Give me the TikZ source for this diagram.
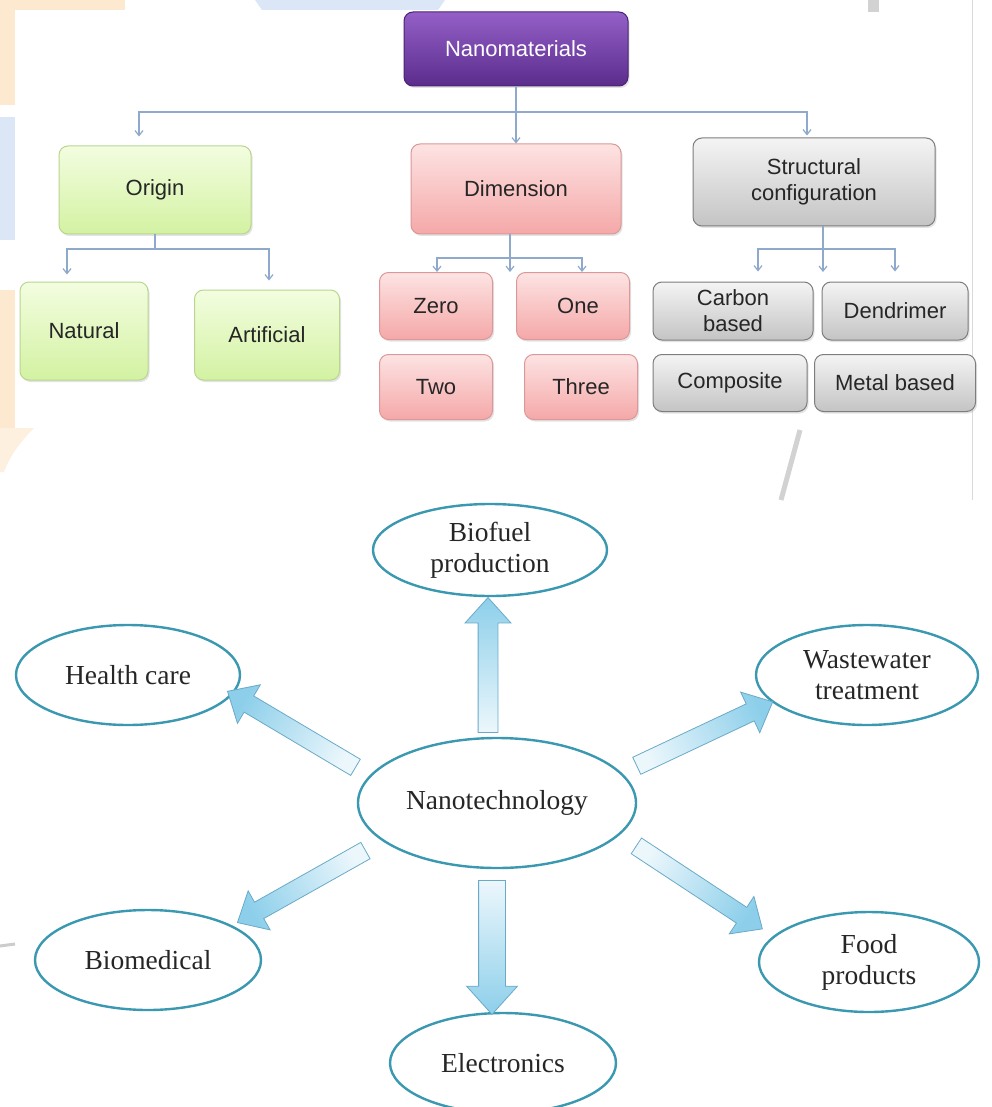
\documentclass[tikz,border=0pt]{standalone}
\usepackage{fontspec}
\setmainfont{Liberation Serif}
\newfontfamily\sansf{Liberation Sans}
\usetikzlibrary{arrows.meta,shapes.geometric,shapes.arrows,shadows,calc}

\definecolor{grnT}{HTML}{F3FDE0}
\definecolor{grnD}{HTML}{D3F2A2}
\definecolor{grnB}{HTML}{B8D68F}
\definecolor{pnkT}{HTML}{FDE3E3}
\definecolor{pnkD}{HTML}{F5A8A8}
\definecolor{pnkB}{HTML}{DB9898}
\definecolor{gryT}{HTML}{F4F4F4}
\definecolor{gryD}{HTML}{C4C4C4}
\definecolor{gryB}{HTML}{7D7D7D}
\definecolor{purT}{HTML}{9460C8}
\definecolor{purD}{HTML}{5B2C8C}
\definecolor{purB}{HTML}{4A2272}
\definecolor{lnC}{HTML}{8EA9CC}
\definecolor{ovC}{HTML}{3A98B0}
\definecolor{baC}{HTML}{6AAAC8}
\definecolor{baL}{HTML}{ECF7FC}
\definecolor{baD}{HTML}{8DCFEA}
\definecolor{wmO}{HTML}{FDE9D0}
\definecolor{wmB}{HTML}{DBE7F7}
\definecolor{txt}{HTML}{262626}

\tikzset{
  box/.style={rounded corners=9pt, line width=1pt, align=center, inner sep=0pt,
    font=\sansf\fontsize{22}{26}\selectfont, text=txt,
    drop shadow={shadow xshift=1.5pt, shadow yshift=-2pt, opacity=0.22}},
  greenbox/.style={box, draw=grnB, top color=grnT, bottom color=grnD},
  pinkbox/.style={box, draw=pnkB, top color=pnkT, bottom color=pnkD},
  graybox/.style={box, draw=gryB, top color=gryT, bottom color=gryD},
  purbox/.style={box, draw=purB, top color=purT, bottom color=purD, text=white},
  conn/.style={draw=lnC, line width=1.2pt},
  arr/.style={conn, -{Straight Barb[length=5pt,width=8pt]}},
  oval/.style={ellipse, draw=ovC, line width=2.4pt, fill=white, inner sep=0pt,
    align=center, font=\fontsize{27.5}{31}\selectfont, text=txt},
  barrowst/.style={single arrow, draw=baC, line width=0.8pt, top color=baD, bottom color=baL,
    inner xsep=0pt, single arrow head indent=0pt, single arrow tip angle=84},
  thinshaft/.style={inner ysep=9pt, single arrow head extend=13pt},
  upshaft/.style={inner ysep=9.5pt, single arrow head extend=13pt},
  downshaft/.style={inner ysep=13pt, single arrow head extend=12pt}
}
\newcommand\blockarr[3]{\path let \p1=($(#2)-(#1)$), \n1={veclen(\x1,\y1)} in
  (#1) -- (#2) node[barrowst, #3, midway, sloped, allow upside down, minimum height=\n1] {};}

\begin{document}
\begin{tikzpicture}[x=1pt,y=-1pt]
\useasboundingbox (0,0) rectangle (992,1107);
\fill[white] (0,0) rectangle (992,1107);

% faint watermark remnants
\fill[wmO] (0,0) rectangle (125,10);
\fill[wmO] (0,0) rectangle (15,105);
\fill[wmB] (255,0) -- (445,0) -- (438,10) -- (262,10) -- cycle;
\fill[wmB] (0,117) rectangle (15,240);
\fill[wmO] (0,290) rectangle (15,430);
\fill[wmO!70] (0,428) -- (34,428) .. controls (22,440) and (10,455) .. (4,472) -- (0,472) -- cycle;
\fill[gray!35] (868,0) rectangle (879,12);
\draw[gray!30, line width=1pt] (972,0) -- (972,500);
\draw[gray!35, line width=5pt] (800,430) -- (781,500);
\draw[gray!40, line width=3pt] (0,946) -- (15,944);

% ---------- top tree ----------
\node[purbox, minimum width=224pt, minimum height=74pt] (nano) at (516,49) {Nanomaterials};

\node[greenbox, minimum width=192pt, minimum height=88pt] (origin) at (155,190) {Origin};
\node[pinkbox, minimum width=210pt, minimum height=90pt] (dim) at (516,189) {Dimension};
\node[graybox, minimum width=242pt, minimum height=88pt] (struct) at (814,182) {Structural\\configuration};

\node[greenbox, minimum width=128pt, minimum height=98pt] (natural) at (84,331) {Natural};
\node[greenbox, minimum width=145pt, minimum height=90pt] (artificial) at (267,335) {Artificial};

\node[pinkbox, minimum width=113pt, minimum height=67pt] (zero) at (436,306) {Zero};
\node[pinkbox, minimum width=113pt, minimum height=67pt] (one) at (573,306) {\hspace*{10pt}One};
\node[pinkbox, minimum width=113pt, minimum height=65pt] (two) at (436,387) {Two};
\node[pinkbox, minimum width=113pt, minimum height=65pt] (three) at (581,387) {Three};

\node[graybox, minimum width=160pt, minimum height=58pt] (carbon) at (733,311) {Carbon\\based};
\node[graybox, minimum width=146pt, minimum height=58pt] (dendrimer) at (895,311) {Dendrimer};
\node[graybox, minimum width=154pt, minimum height=57pt] (composite) at (730,383) {Composite};
\node[graybox, minimum width=161pt, minimum height=57pt] (metal) at (895,383) {Metal based};

% connectors
\coordinate (j1) at (516,112);
\draw[conn] (nano.south) -- (j1);
\draw[arr] (j1) -| ([xshift=-16pt,yshift=9pt]origin.north);
\draw[arr] (j1) -- (dim.north);
\draw[arr] (j1) -| ([xshift=-7pt,yshift=2pt]struct.north);

\coordinate (j2) at (155,249);
\draw[conn] (origin.south) -- (j2);
\draw[arr] (j2) -| ([xshift=-17pt,yshift=7pt]natural.north);
\draw[arr] (j2) -| ([xshift=2pt,yshift=9pt]artificial.north);

\coordinate (j3) at (510,258);
\coordinate (d2) at (510,272);
\draw[conn] ([xshift=-6pt]dim.south) -- (j3);
\draw[arr] (j3) -- (d2);
\draw[arr] (j3) -| ([xshift=1pt]zero.north);
\draw[arr] (j3) -| ([xshift=9pt]one.north);

\coordinate (j4) at (823,249);
\coordinate (s2) at (823,272);
\draw[conn] ([xshift=9pt]struct.south) -- (j4);
\draw[arr] (j4) -- (s2);
\draw[arr] (j4) -| ([xshift=25pt,yshift=10pt]carbon.north);
\draw[arr] (j4) -| ([yshift=10pt]dendrimer.north);

% ---------- bottom: nanotechnology ----------
\node[oval, minimum width=278pt, minimum height=130pt] (nt) at (497,803) {Nanotechnology};
\node[oval, minimum width=234pt, minimum height=92pt] (bio) at (490,550) {Biofuel\\production};
\node[oval, minimum width=224pt, minimum height=100pt] (health) at (128,675) {Health care};
\node[oval, minimum width=222pt, minimum height=100pt] (waste) at (867,675) {Wastewater\\treatment};
\node[oval, minimum width=226pt, minimum height=100pt] (biomed) at (148,960) {Biomedical};
\node[oval, minimum width=220pt, minimum height=100pt] (food) at (869,962) {Food\\products};
\node[oval, minimum width=226pt, minimum height=100pt] (elec) at (503,1063) {Electronics};

\coordinate (tU) at (488,738);  \coordinate (hU) at (488,603);
\coordinate (tD) at (492,873);  \coordinate (hD) at (492,1007);
\coordinate (tH) at (360,770);  \coordinate (hH) at (232,694);
\coordinate (tB) at (370,848);  \coordinate (hB) at (242,920);
\coordinate (tW) at (632,768);  \coordinate (hW) at (768,704);
\coordinate (tF) at (632,843);  \coordinate (hF) at (758,926);

\blockarr{tU}{hU}{upshaft, shading angle=0}
\blockarr{tD}{hD}{downshaft, shading angle=180}
\blockarr{tH}{hH}{thinshaft, shading angle=59}
\blockarr{tB}{hB}{thinshaft, shading angle=119}
\blockarr{tW}{hW}{thinshaft, shading angle=-65}
\blockarr{tF}{hF}{thinshaft, shading angle=-123}
\end{tikzpicture}
\end{document}
